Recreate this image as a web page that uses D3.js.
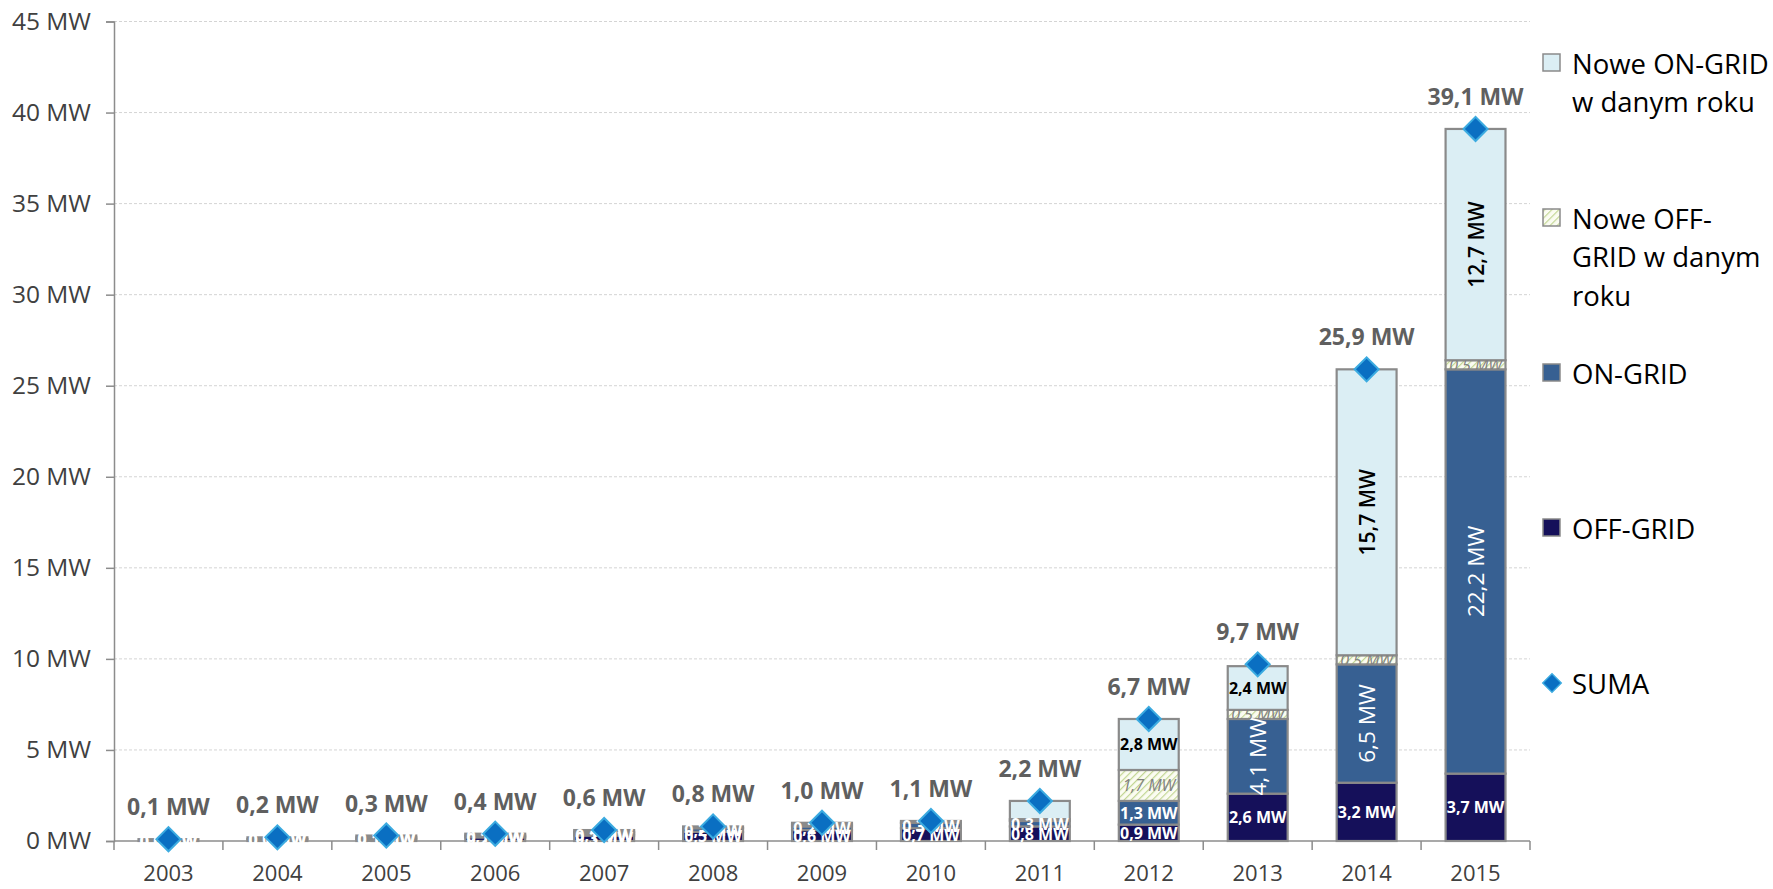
<!DOCTYPE html>
<html>
<head>
<meta charset="utf-8">
<script src="https://cdn.jsdelivr.net/npm/d3@7"></script>
<style>
  html, body { margin: 0; padding: 0; background: #fff; }
  svg { display: block; font-family: "Open Sans", sans-serif; }
</style>
</head>
<body>
<svg id="chart" width="1773" height="889"></svg>
<script>
// Installed PV capacity in Poland, MW (stacked by segment)
const years = ["2003","2004","2005","2006","2007","2008","2009","2010","2011","2012","2013","2014","2015"];
const offGrid    = [0.0, 0.1, 0.1, 0.2, 0.3, 0.5, 0.6, 0.7, 0.8, 0.9, 2.6, 3.2, 3.7];
const onGrid     = [0.0, 0.0, 0.1, 0.1, 0.1, 0.2, 0.2, 0.3, 0.3, 1.3, 4.1, 6.5, 22.2];
const newOffGrid = [0.1, 0.1, 0.1, 0.1, 0.1, 0.1, 0.1, 0.1, 0.1, 1.7, 0.5, 0.5, 0.5];
const newOnGrid  = [0.0, 0.0, 0.0, 0.0, 0.1, 0.0, 0.1, 0.0, 1.0, 2.8, 2.4, 15.7, 12.7];
const totals     = [0.1, 0.2, 0.3, 0.4, 0.6, 0.8, 1.0, 1.1, 2.2, 6.7, 9.7, 25.9, 39.1];
const yTicks     = [0, 5, 10, 15, 20, 25, 30, 35, 40, 45];

// Segment labels for the new-capacity series start from this year
const newLabelFrom = "2012";

const seriesKeys = ["offGrid", "onGrid", "newOffGrid", "newOnGrid"];
const seriesNames = {
  newOnGrid: ["Nowe ON-GRID", "w danym roku"],
  newOffGrid: ["Nowe OFF-", "GRID w danym", "roku"],
  onGrid: ["ON-GRID"],
  offGrid: ["OFF-GRID"]
};
const seriesFill = {
  offGrid: "#15105a",
  onGrid: "#376092",
  newOffGrid: "url(#hatch)",
  newOnGrid: "#dbeef4"
};

const fmt = v => d3.format(".1f")(v).replace(".", ",") + " MW";

const rows = years.map((yr, i) => ({
  year: yr,
  offGrid: offGrid[i],
  onGrid: onGrid[i],
  newOffGrid: newOffGrid[i],
  newOnGrid: newOnGrid[i],
  total: totals[i]
}));

const svg = d3.select("#chart");
const defs = svg.append("defs");

// diagonal hatch for new off-grid capacity
const pat = defs.append("pattern")
  .attr("id", "hatch").attr("patternUnits", "userSpaceOnUse")
  .attr("width", 5).attr("height", 5)
  .attr("patternTransform", "rotate(45)");
pat.append("rect").attr("width", 5).attr("height", 5).attr("fill", "#fbfcf2");
pat.append("line").attr("x1", 0).attr("y1", 0).attr("x2", 0).attr("y2", 5)
  .attr("stroke", "#c2d693").attr("stroke-width", 2.4);

const x = d3.scaleBand().domain(years).range([114, 1530])
  .paddingInner(0.45).paddingOuter(0.225);
const y = d3.scaleLinear().domain([0, 45]).range([841, 21.5]);

// horizontal gridlines
svg.append("g").selectAll("line")
  .data(yTicks.filter(d => d > 0))
  .join("line")
  .attr("x1", x.range()[0]).attr("x2", x.range()[1])
  .attr("y1", d => y(d)).attr("y2", d => y(d))
  .attr("stroke", "#d4d4d4").attr("stroke-width", 1)
  .attr("stroke-dasharray", "3,2");

// y axis
const yAxis = svg.append("g")
  .attr("transform", `translate(${x.range()[0]},0)`)
  .call(d3.axisLeft(y).tickValues(yTicks).tickFormat(d => d + " MW").tickSize(8).tickPadding(15));
yAxis.select(".domain").attr("stroke", "#8c8c8c").attr("stroke-width", 1.5);
yAxis.selectAll(".tick line").attr("stroke", "#8c8c8c").attr("stroke-width", 1.5);
yAxis.selectAll(".tick text").attr("fill", "#404040")
  .style("font-size", "24.5px").style("font-family", "'Open Sans', sans-serif");

// stacked bars
const stack = d3.stack().keys(seriesKeys)(rows);

const layers = svg.append("g").selectAll("g")
  .data(stack).join("g");

layers.selectAll("rect")
  .data(s => s.map(d => ({ key: s.key, d })))
  .join("rect")
  .attr("x", e => x(e.d.data.year))
  .attr("width", x.bandwidth())
  .attr("y", e => y(e.d[1]))
  .attr("height", e => y(e.d[0]) - y(e.d[1]))
  .attr("fill", e => seriesFill[e.key])
  .attr("stroke", "#8a8a8a")
  .attr("stroke-width", 2.2);

// x axis
const xAxisG = svg.append("g");
xAxisG.append("line")
  .attr("x1", x.range()[0]).attr("x2", x.range()[1])
  .attr("y1", y(0)).attr("y2", y(0))
  .attr("stroke", "#8c8c8c").attr("stroke-width", 1.5);
xAxisG.selectAll("line.tick")
  .data(d3.range(years.length + 1))
  .join("line").attr("class", "tick")
  .attr("x1", i => x.range()[0] + i * x.step())
  .attr("x2", i => x.range()[0] + i * x.step())
  .attr("y1", y(0)).attr("y2", y(0) + 9)
  .attr("stroke", "#8c8c8c").attr("stroke-width", 1.5);
xAxisG.selectAll("text")
  .data(years).join("text")
  .attr("x", d => x(d) + x.bandwidth() / 2)
  .attr("y", y(0) + 40)
  .attr("text-anchor", "middle")
  .attr("fill", "#404040")
  .style("font-size", "22px")
  .text(d => d);

// segment labels
const labelData = [];
stack.forEach(s => {
  s.forEach(d => {
    const yr = d.data.year;
    const v = d.data[s.key];
    const isNew = s.key === "newOffGrid" || s.key === "newOnGrid";
    if (isNew && yr < newLabelFrom) return;
    labelData.push({ key: s.key, year: yr, v, y0: d[0], y1: d[1] });
  });
});

let clipCount = 0;
const labels = svg.append("g");
labelData.forEach(L => {
  const cx = x(L.year) + x.bandwidth() / 2;
  const cy = (y(L.y0) + y(L.y1)) / 2;
  const h = y(L.y0) - y(L.y1);
  const rotate = h > 70;
  let fill = "#ffffff", style = "normal", weight = "bold", size = 16;
  if (L.key === "newOnGrid") fill = "#000000";
  if (rotate) {
    size = L.key === "newOnGrid" ? 21 : 22.5;
    weight = L.key === "newOnGrid" ? "600" : "normal";
  }
  if (L.key === "newOffGrid") { fill = "#808080"; style = "italic"; weight = "normal"; }
  let parent = labels;
  if (L.key === "newOffGrid") {
    const id = "clip" + (clipCount++);
    defs.append("clipPath").attr("id", id).append("rect")
      .attr("x", x(L.year)).attr("width", x.bandwidth())
      .attr("y", y(L.y1)).attr("height", Math.max(h, 0));
    parent = labels.append("g").attr("clip-path", `url(#${id})`);
  }
  parent.append("text")
    .attr("transform", rotate ? `translate(${cx},${cy}) rotate(-90)` : `translate(${cx},${cy})`)
    .attr("text-anchor", "middle")
    .attr("dominant-baseline", "central")
    .attr("fill", fill)
    .style("font-size", size + "px")
    .style("font-weight", weight)
    .style("font-style", style)
    .text(fmt(L.v));
});

// SUMA markers and total labels
const diamond = d3.symbol().type(d3.symbolSquare).size(290);
svg.append("g").selectAll("path")
  .data(rows).join("path")
  .attr("d", diamond)
  .attr("transform", d => `translate(${x(d.year) + x.bandwidth() / 2},${y(d.total)}) rotate(45)`)
  .attr("fill", "#0a6fc2")
  .attr("stroke", "#3cabe0")
  .attr("stroke-width", 2);

svg.append("g").selectAll("text")
  .data(rows).join("text")
  .attr("x", d => x(d.year) + x.bandwidth() / 2)
  .attr("y", d => y(d.total) - 24)
  .attr("text-anchor", "middle")
  .attr("fill", "#5f5f5f")
  .style("font-size", "23px")
  .style("font-weight", "bold")
  .text(d => fmt(d.total));

// legend
const legendOrder = ["newOnGrid", "newOffGrid", "onGrid", "offGrid", "suma"];
const legend = svg.append("g");
legendOrder.forEach((k, i) => {
  const ly = 63 + i * 155;
  const g = legend.append("g");
  if (k === "suma") {
    g.append("path")
      .attr("d", d3.symbol().type(d3.symbolSquare).size(170))
      .attr("transform", `translate(1552,${ly}) rotate(45)`)
      .attr("fill", "#0a6fc2").attr("stroke", "#3cabe0").attr("stroke-width", 1.5);
    g.append("text").attr("x", 1572).attr("y", ly)
      .attr("dominant-baseline", "central")
      .style("font-size", "27.5px").attr("fill", "#000").text("SUMA");
  } else {
    g.append("rect")
      .attr("x", 1543).attr("y", ly - 9).attr("width", 17).attr("height", 17)
      .attr("fill", seriesFill[k]).attr("stroke", "#8a8a8a").attr("stroke-width", 1.5);
    seriesNames[k].forEach((line, j) => {
      g.append("text").attr("x", 1572).attr("y", ly + j * 38.5)
        .attr("dominant-baseline", "central")
        .style("font-size", "27.5px").attr("fill", "#000").text(line);
    });
  }
});
</script>
</body>
</html>
